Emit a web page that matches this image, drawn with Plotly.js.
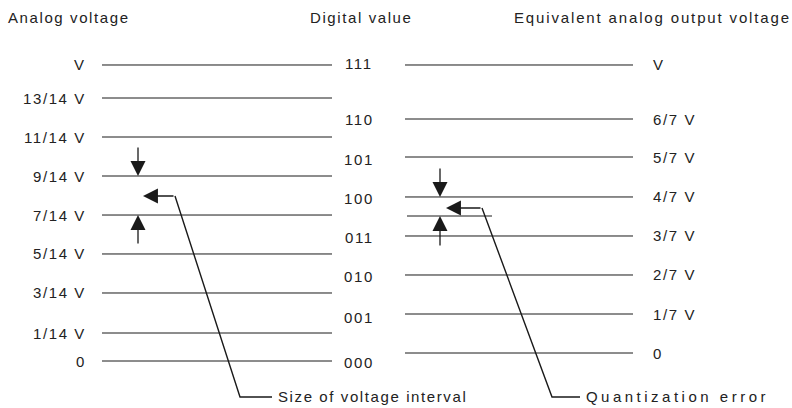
<!DOCTYPE html>
<html><head><meta charset="utf-8">
<script src="https://cdn.plot.ly/plotly-3.0.1.min.js"></script>
<style>
html,body{margin:0;padding:0;background:#fff;}
svg text{letter-spacing:1.6px;}
</style>
</head><body><div id="chart" style="width:792px;height:408px;"></div>
<script>
// Column headings
const columnTitles = ['Analog voltage', 'Digital value', 'Equivalent analog output voltage'];

// Left column: analog input thresholds (diagram level units)
const analogLabels = ['0', '1/14 V', '3/14 V', '5/14 V', '7/14 V', '9/14 V', '11/14 V', '13/14 V', 'V'];
const analogLevels = [0, 0.714, 1.735, 2.730, 3.724, 4.719, 5.714, 6.709, 7.551];

// Middle column: digital codes
const digitalCodes = ['000', '001', '010', '011', '100', '101', '110', '111'];
const digitalLevels = [-0.026, 1.122, 2.143, 3.138, 4.158, 5.128, 6.148, 7.577];

// Right column: equivalent analog output voltages
const outputLabels = ['0', '1/7 V', '2/7 V', '3/7 V', '4/7 V', '5/7 V', '6/7 V', 'V'];
const outputLevels = [0.204, 1.199, 2.194, 3.189, 4.184, 5.204, 6.173, 7.551];

// Example input level showing quantization error
const sampleLevel = 3.699;

// Dimension arrows: [tail, tip, tail, tip]
const intervalArrowLevels = [5.485, 4.719, 2.959, 3.724];
const errorArrowLevels = [4.949, 4.184, 2.908, 3.699];

// Leader lines to callout labels
const calloutTexts = ['Size of voltage interval', 'Quantization error'];
const intervalLeaderX = [143, 175, 240, 272];
const intervalLeaderY = [4.209, 4.209, -0.918, -0.918];
const errorLeaderX = [446, 482, 552, 580];
const errorLeaderY = [3.903, 3.903, -0.918, -0.918];

// ---- layout constants ----
const baseSpacing = 1.6;
const leftX0 = 102, leftX1 = 332;
const rightX0 = 405, rightX1 = 633;
const sampleX0 = 407, sampleX1 = 492;
const leftLabelX = 88, codeX = 359, rightLabelX = 651;
const leftArrowX = 138, rightArrowX = 440;
const titleLevel = 8.77;
const lineColor = '#1a1a1a';
const textColor = '#222222';
const font = {family: 'Liberation Sans, Arial, sans-serif', size: 15, color: textColor};

function levelLines(levels, x0, x1) {
  const xs = [], ys = [];
  levels.forEach(v => { xs.push(x0, x1, null); ys.push(v, v, null); });
  return {x: xs, y: ys, mode: 'lines', type: 'scatter', line: {color: lineColor, width: 1}, hoverinfo: 'skip'};
}

const traces = [
  levelLines(analogLevels, leftX0, leftX1),
  levelLines(outputLevels, rightX0, rightX1),
  levelLines([sampleLevel], sampleX0, sampleX1),
  {x: intervalLeaderX.slice(1), y: intervalLeaderY.slice(1), mode: 'lines', type: 'scatter', line: {color: lineColor, width: 1.4}},
  {x: errorLeaderX.slice(1), y: errorLeaderY.slice(1), mode: 'lines', type: 'scatter', line: {color: lineColor, width: 1.4}}
];

const annotations = [];
const spacingRules = [];
function txt(x, y, text, xanchor, spacing) {
  let xx = x;
  if (spacing) {
    spacingRules.push('g.annotation[data-index="' + annotations.length + '"] text{letter-spacing:' + spacing + 'px;}');
    // text box is measured with the base spacing; compensate for the wider text
    if (xanchor === 'left') xx = x + (spacing - baseSpacing) * text.length / 2;
  }
  annotations.push({x: xx, y: y, xref: 'x', yref: 'y', text: text, showarrow: false, xanchor: xanchor, yanchor: 'middle', font: font});
}
function arrow(x, y, ax, ay) {
  annotations.push({x: x, y: y, ax: ax, ay: ay, xref: 'x', yref: 'y', axref: 'x', ayref: 'y', text: '',
    showarrow: true, arrowhead: 2, arrowsize: 2.3, arrowwidth: 1.3, arrowcolor: lineColor});
}

txt(6, titleLevel, columnTitles[0], 'left');
txt(codeX + 2, titleLevel, columnTitles[1], 'center');
txt(512, titleLevel, columnTitles[2], 'left', 1.85);

analogLabels.forEach((t, i) => txt(leftLabelX, analogLevels[i], t, 'right'));
digitalCodes.forEach((t, i) => txt(codeX, digitalLevels[i], t, 'center'));
outputLabels.forEach((t, i) => txt(rightLabelX, outputLevels[i], t, 'left'));

arrow(leftArrowX, intervalArrowLevels[1], leftArrowX, intervalArrowLevels[0]);
arrow(leftArrowX, intervalArrowLevels[3], leftArrowX, intervalArrowLevels[2]);
arrow(rightArrowX, errorArrowLevels[1], rightArrowX, errorArrowLevels[0]);
arrow(rightArrowX, errorArrowLevels[3], rightArrowX, errorArrowLevels[2]);

arrow(intervalLeaderX[0], intervalLeaderY[0], intervalLeaderX[1], intervalLeaderY[1]);
arrow(errorLeaderX[0], errorLeaderY[0], errorLeaderX[1], errorLeaderY[1]);

txt(intervalLeaderX[3] + 4, intervalLeaderY[3], calloutTexts[0], 'left');
txt(errorLeaderX[3] + 4, errorLeaderY[3], calloutTexts[1], 'left', 3.5);

const styleEl = document.createElement('style');
styleEl.textContent = spacingRules.join('\n');
document.head.appendChild(styleEl);

const layout = {
  width: 792, height: 408,
  margin: {l: 0, r: 0, t: 0, b: 0},
  paper_bgcolor: '#fff', plot_bgcolor: '#fff',
  showlegend: false,
  xaxis: {range: [0, 792], visible: false, fixedrange: true},
  yaxis: {range: [-1.199, 9.209], visible: false, fixedrange: true},
  annotations: annotations,
  hovermode: false
};

Plotly.newPlot('chart', traces, layout, {staticPlot: true, displayModeBar: false});
</script>
</body></html>
